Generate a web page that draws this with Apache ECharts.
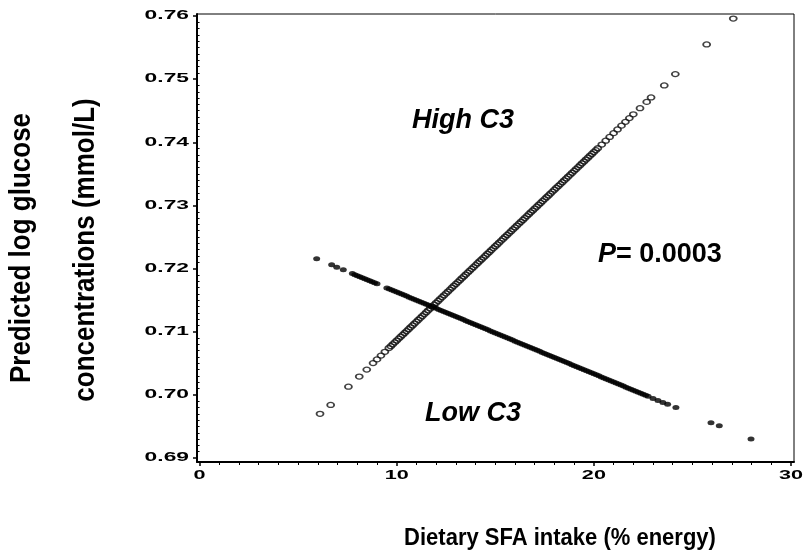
<!DOCTYPE html>
<html>
<head>
<meta charset="utf-8">
<script src="https://cdn.jsdelivr.net/npm/echarts@6/dist/echarts.min.js"></script>
<style>
html,body{margin:0;padding:0;background:#fff;}
#chart{width:805px;height:558px;}
</style>
</head>
<body>
<div id="chart"></div>
<script>
// ---- data ----
const xTicks = [0, 10, 20, 30];
const yTicks = [0.69, 0.70, 0.71, 0.72, 0.73, 0.74, 0.75, 0.76];

// High C3 (open circles): dietary SFA intake (% energy) and predicted log glucose
const highX = [6.11, 6.65, 7.55, 8.10, 8.48,
  8.8, 9.0, 9.2, 9.4, 9.6, 9.8, 10.0, 10.2, 10.4, 10.6, 10.8, 11.0, 11.2, 11.4, 11.6, 11.8,
  12.0, 12.2, 12.4, 12.6, 12.8, 13.0, 13.2, 13.4, 13.6, 13.8, 14.0, 14.2, 14.4, 14.6, 14.8,
  15.0, 15.2, 15.4, 15.6, 15.8, 16.0, 16.2, 16.4, 16.6, 16.8, 17.0, 17.2, 17.4, 17.6, 17.8,
  18.0, 18.2, 18.4, 18.6, 18.8, 19.0, 19.2, 19.4, 19.6, 19.8, 20.0, 20.2, 20.4, 20.6, 20.8,
  21.0, 21.2, 21.4, 21.6, 21.8, 22.0,
  22.34, 22.68, 22.9, 23.57, 24.13, 25.72, 27.07];
const highY = [0.6970, 0.6984, 0.7013, 0.7029, 0.7040,
  0.70503, 0.70562, 0.70622, 0.70682, 0.70742, 0.70801, 0.70861, 0.70921, 0.70980, 0.71040, 0.71100, 0.71160, 0.71219, 0.71279, 0.71339, 0.71398,
  0.71458, 0.71518, 0.71577, 0.71637, 0.71697, 0.71757, 0.71816, 0.71876, 0.71936, 0.71995, 0.72055, 0.72115, 0.72174, 0.72234, 0.72294,
  0.72354, 0.72413, 0.72473, 0.72533, 0.72592, 0.72652, 0.72712, 0.72771, 0.72831, 0.72891, 0.72951, 0.73010, 0.73070, 0.73130, 0.73189,
  0.73249, 0.73309, 0.73368, 0.73428, 0.73488, 0.73548, 0.73607, 0.73667, 0.73727, 0.73786, 0.73846, 0.73906, 0.73965, 0.74025, 0.74085,
  0.74145, 0.74204, 0.74264, 0.74324, 0.74383, 0.74443,
  0.7454, 0.7464, 0.7471, 0.7490, 0.7508, 0.7555, 0.7596];
// further High C3 observations in the crowded middle of the band
const highX2 = [9.7, 9.9, 10.1, 10.3, 10.5, 10.7, 10.9, 11.1, 11.3, 11.5, 11.7, 11.9,
  12.1, 12.3, 12.5, 12.7, 12.9, 13.1, 13.3, 13.5, 13.7, 13.9, 14.1, 14.3, 14.5, 14.7, 14.9,
  15.1, 15.3, 15.5, 15.7, 15.9, 16.1, 16.3, 16.5, 16.7, 16.9, 17.1, 17.3, 17.5, 17.7, 17.9,
  18.1, 18.3, 18.5, 18.7, 18.9, 19.1, 19.3, 19.5, 19.7, 19.9, 20.1];
const highY2 = [0.70771, 0.70831, 0.70891, 0.70950, 0.71010, 0.71070, 0.71130, 0.71189, 0.71249, 0.71309, 0.71368, 0.71428,
  0.71488, 0.71548, 0.71607, 0.71667, 0.71727, 0.71786, 0.71846, 0.71906, 0.71965, 0.72025, 0.72085, 0.72144, 0.72204, 0.72264, 0.72324,
  0.72383, 0.72443, 0.72503, 0.72562, 0.72622, 0.72682, 0.72741, 0.72801, 0.72861, 0.72920, 0.72980, 0.73040, 0.73100, 0.73159, 0.73219,
  0.73279, 0.73338, 0.73398, 0.73458, 0.73517, 0.73577, 0.73637, 0.73696, 0.73756, 0.73816, 0.73876];

// Low C3 (filled dots)
const lowX = [5.94, 6.70, 6.96, 7.29,
  7.75, 8.0, 8.25, 8.5, 8.75, 9.0, 9.5, 9.75, 10.0, 10.25, 10.5, 10.75, 11.0, 11.25, 11.5, 11.75,
  12.0, 12.25, 12.5, 12.75, 13.0, 13.25, 13.5, 13.75, 14.0, 14.25, 14.5, 14.75, 15.0, 15.25, 15.5, 15.75,
  16.0, 16.25, 16.5, 16.75, 17.0, 17.25, 17.5, 17.75, 18.0, 18.25, 18.5, 18.75, 19.0, 19.25, 19.5, 19.75,
  20.0, 20.25, 20.5, 20.75, 21.0, 21.25, 21.5, 21.75, 22.0, 22.25, 22.5, 22.75, 23.0, 23.25, 23.5,
  23.74, 24.16, 25.94, 26.36, 27.97];
const lowY = [0.72155, 0.7206, 0.7202, 0.7198,
  0.71921, 0.71888, 0.71856, 0.71823, 0.71791, 0.71759, 0.71694, 0.71661, 0.71629, 0.71597, 0.71564, 0.71532, 0.71499, 0.71467, 0.71435, 0.71402,
  0.71370, 0.71337, 0.71305, 0.71273, 0.71240, 0.71208, 0.71175, 0.71143, 0.71111, 0.71078, 0.71046, 0.71013, 0.70981, 0.70949, 0.70916, 0.70884,
  0.70851, 0.70819, 0.70787, 0.70754, 0.70722, 0.70689, 0.70657, 0.70625, 0.70592, 0.70560, 0.70527, 0.70495, 0.70463, 0.70430, 0.70398, 0.70365,
  0.70333, 0.70301, 0.70268, 0.70236, 0.70203, 0.70171, 0.70139, 0.70106, 0.70074, 0.70041, 0.70009, 0.69977, 0.69944, 0.69912, 0.69879,
  0.6985, 0.6980, 0.6956, 0.6951, 0.6930];
// further Low C3 observations in the crowded part of the band
const lowX2 = [7.875, 8.125, 8.375, 8.625, 8.875, 9.625, 9.875, 10.125, 10.375, 10.625, 10.875,
  11.125, 11.375, 11.625, 11.875, 12.125, 12.375, 12.625, 12.875, 13.125, 13.375, 13.625, 13.875,
  14.125, 14.375, 14.625, 14.875, 15.125, 15.375, 15.625, 15.875, 16.125, 16.375, 16.625, 16.875,
  17.125, 17.375, 17.625, 17.875, 18.125, 18.375, 18.625, 18.875, 19.125, 19.375, 19.625, 19.875,
  20.125, 20.375, 20.625, 20.875, 21.125, 21.375, 21.625, 21.875, 22.125, 22.375, 22.625];
const lowY2 = [0.71904, 0.71872, 0.71840, 0.71807, 0.71775, 0.71678, 0.71645, 0.71613, 0.71580, 0.71548, 0.71516,
  0.71483, 0.71451, 0.71418, 0.71386, 0.71354, 0.71321, 0.71289, 0.71256, 0.71224, 0.71192, 0.71159, 0.71127,
  0.71094, 0.71062, 0.71030, 0.70997, 0.70965, 0.70932, 0.70900, 0.70868, 0.70835, 0.70803, 0.70770, 0.70738,
  0.70706, 0.70673, 0.70641, 0.70608, 0.70576, 0.70544, 0.70511, 0.70479, 0.70446, 0.70414, 0.70382, 0.70349,
  0.70317, 0.70284, 0.70252, 0.70220, 0.70187, 0.70155, 0.70122, 0.70090, 0.70058, 0.70025, 0.69993];

const xTitle = 'Dietary SFA intake (% energy)';
const yTitle1 = 'Predicted log glucose';
const yTitle2 = 'concentrations (mmol/L)';

// minor tick positions derived from the major ticks
const xMinor = [];
for (let i = 0; i < xTicks.length - 1; i++) for (let k = 1; k < 10; k++) xMinor.push(xTicks[i] + k * (xTicks[i+1]-xTicks[i]) / 10);
const yMinor = [];
for (let i = 0; i < yTicks.length - 1; i++) for (let k = 1; k < 10; k++) yMinor.push(+(yTicks[i] + k * (yTicks[i+1]-yTicks[i]) / 10).toFixed(4));

const zip = (a, b) => a.map((v, i) => [v, b[i]]);

const FONT = '"Liberation Sans", Arial, sans-serif';
const XMIN = -0.13, XMAX = 30.15, YMIN = 0.68937, YMAX = 0.76032;

const chart = echarts.init(document.getElementById('chart'), null, {renderer: 'canvas'});
const baseGraphic = [
  {type: 'text', x: 412, y: 121, style: {text: 'High C3', font: 'italic bold 27px ' + FONT, fill: '#000', verticalAlign: 'middle', align: 'left'}},
  {type: 'text', x: 425, y: 414, style: {text: 'Low C3', font: 'italic bold 27px ' + FONT, fill: '#000', verticalAlign: 'middle', align: 'left'}},
  {type: 'text', x: 598, y: 255, style: {
    text: '{i|P}{n|= 0.0003}', verticalAlign: 'middle', align: 'left',
    rich: {i: {font: 'italic bold 27px ' + FONT, fill: '#000'}, n: {font: 'bold 27px ' + FONT, fill: '#000'}}
  }},
  {type: 'text', x: 560, y: 538, scaleY: 1.1, style: {text: xTitle, font: 'bold 22px ' + FONT, fill: '#000', align: 'center', verticalAlign: 'middle'}},
  {type: 'text', x: 22, y: 248, rotation: Math.PI / 2, scaleY: 1.15, style: {text: yTitle1, font: 'bold 26px ' + FONT, fill: '#000', align: 'center', verticalAlign: 'middle'}},
  {type: 'text', x: 86, y: 250, rotation: Math.PI / 2, scaleY: 1.15, style: {text: yTitle2, font: 'bold 26px ' + FONT, fill: '#000', align: 'center', verticalAlign: 'middle'}}
];

chart.setOption({
  animation: false,
  backgroundColor: '#fff',
  grid: {left: 197, right: 11, top: 14, bottom: 96, show: true, borderColor: '#000', borderWidth: 1, backgroundColor: 'transparent'},
  xAxis: [{
    type: 'value', min: XMIN, max: XMAX, position: 'bottom',
    axisLine: {show: true, onZero: false, lineStyle: {color: '#000', width: 2}},
    axisTick: {show: true, customValues: xTicks, length: 4, lineStyle: {color: '#000', width: 1.5}},
    axisLabel: {show: false},
    splitLine: {show: false}
  }, {
    type: 'value', min: XMIN, max: XMAX, position: 'bottom',
    axisLine: {show: false},
    axisTick: {show: true, customValues: xMinor, length: 3, lineStyle: {color: '#000', width: 1}},
    axisLabel: {show: false},
    splitLine: {show: false}
  }],
  yAxis: [{
    type: 'value', min: YMIN, max: YMAX, position: 'left',
    axisLine: {show: true, onZero: false, lineStyle: {color: '#000', width: 2}},
    axisTick: {show: true, customValues: yTicks, length: 4, lineStyle: {color: '#000', width: 1.5}},
    axisLabel: {show: false},
    splitLine: {show: false}
  }, {
    type: 'value', min: YMIN, max: YMAX, position: 'left',
    axisLine: {show: false},
    axisTick: {show: true, customValues: yMinor, length: 3, lineStyle: {color: '#000', width: 1}},
    axisLabel: {show: false},
    splitLine: {show: false}
  }],
  series: [{
    name: 'High C3', type: 'scatter', xAxisIndex: 0, yAxisIndex: 0,
    data: zip(highX, highY).concat(zip(highX2, highY2)), symbol: 'circle', symbolSize: [7, 5],
    itemStyle: {color: 'rgba(0,0,0,0)', borderColor: '#111', borderWidth: 1.5},
    z: 3
  }, {
    name: 'Low C3', type: 'scatter', xAxisIndex: 0, yAxisIndex: 0,
    data: zip(lowX, lowY).concat(zip(lowX2, lowY2)), symbol: 'circle', symbolSize: [7, 5],
    itemStyle: {color: '#000'},
    z: 4
  }],
  graphic: baseGraphic
});

// Tick labels: placed through the axes' own scales (convertToPixel), drawn wide like the original
const tickFont = 'bold 12px ' + FONT;
const tickLabels = [];
xTicks.forEach(v => {
  const px = chart.convertToPixel({xAxisIndex: 0}, v);
  const py = chart.convertToPixel({yAxisIndex: 0}, YMIN);
  tickLabels.push({type: 'text', x: px, y: py + 14, scaleX: 1.8,
    style: {text: String(v), font: tickFont, fill: '#000', align: 'center', verticalAlign: 'middle'}});
});
yTicks.forEach(v => {
  const py = chart.convertToPixel({yAxisIndex: 0}, v);
  const px = chart.convertToPixel({xAxisIndex: 0}, XMIN);
  tickLabels.push({type: 'text', x: px - 8, y: py, scaleX: 1.9,
    style: {text: v.toFixed(2), font: tickFont, fill: '#000', align: 'right', verticalAlign: 'middle'}});
});
chart.setOption({graphic: baseGraphic.concat(tickLabels)});
</script>
</body>
</html>
